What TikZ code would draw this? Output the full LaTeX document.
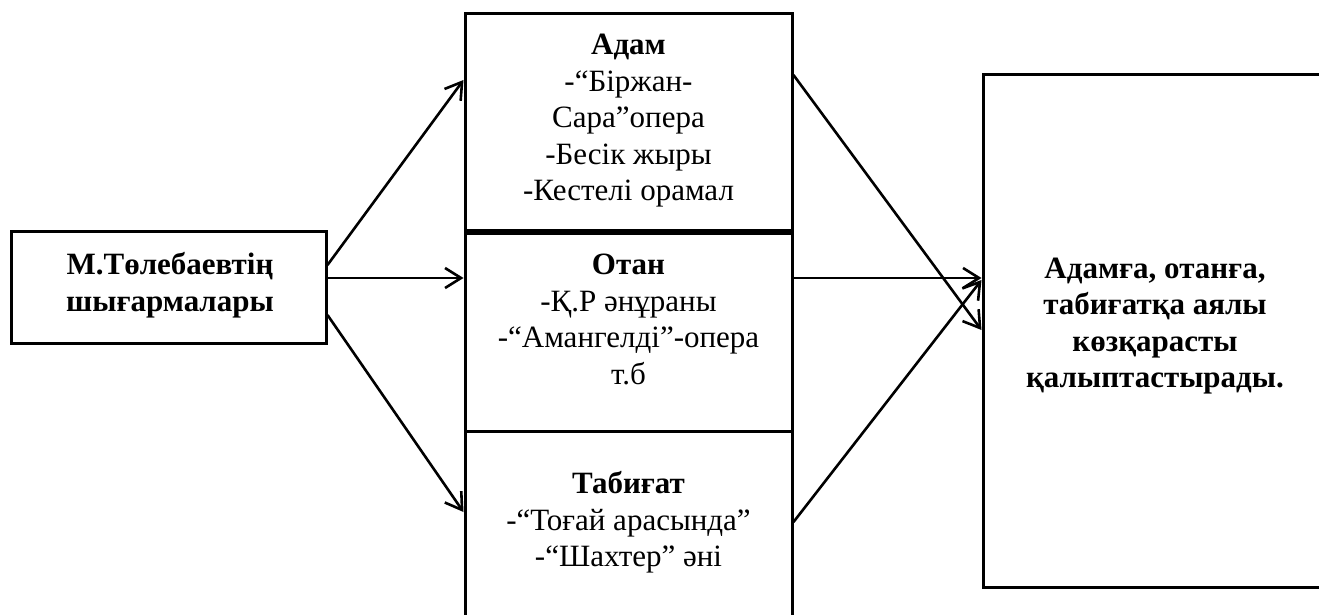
\documentclass[tikz,border=0pt]{standalone}
\usepackage{fontspec}
\setmainfont{Liberation Serif}
\usetikzlibrary{arrows.meta}
\tikzset{
  box/.style={draw, rectangle, line width=3pt, inner sep=0pt},
  txt/.style={align=center, inner sep=0pt, font=\fontsize{31pt}{36.5pt}\selectfont},
  arr/.style={line width=2.6pt, -{Straight Barb[length=16pt,width=20pt]}}
}
\begin{document}
\begin{tikzpicture}[x=1pt,y=-1pt]
\useasboundingbox (0,0) rectangle (1319,615);
% boxes
\node[box, minimum width=315pt, minimum height=112pt] (src) at (168.5,287) {};
\node[box, minimum width=327pt, minimum height=216pt] (adam) at (628.5,122) {};
\node[box, minimum width=327pt, minimum height=198pt] (otan) at (628.5,332) {};
\node[box, minimum width=327pt, minimum height=229pt] (tab) at (628.5,545.5) {};
\node[box, minimum width=357pt, minimum height=512pt] (res) at (1161.5,331) {};
% texts
\node[txt] (srcT) at (170,285) {\textbf{М.Төлебаевтің}\\\textbf{шығармалары}};
\node[txt] (adamT) at (628.5,121) {\textbf{Адам}\\-“Біржан-\\Сара”опера\\-Бесік жыры\\-Кестелі орамал};
\node[txt] (otanT) at (628.5,319.5) {\textbf{Отан}\\-Қ.Р әнұраны\\-“Амангелді”-опера\\т.б};
\node[txt] (tabT) at (628.5,522.5) {\textbf{Табиғат}\\-“Тоғай арасында”\\-“Шахтер” әні};
\node[txt] (resT) at (1155,326) {\textbf{Адамға, отанға,}\\\textbf{табиғатқа аялы}\\\textbf{көзқарасты}\\\textbf{қалыптастырады.}};
% connectors
\draw[arr] ([yshift=22pt]src.east) -- ([yshift=42pt]adam.west);
\draw[arr] ([yshift=9pt]src.east) -- ([yshift=54pt]otan.west);
\draw[arr] ([yshift=-28pt]src.east) -- ([yshift=33.5pt]tab.west);
\draw[arr] ([yshift=47pt]adam.east) -- ([yshift=1pt]res.west);
\draw[arr] ([yshift=54pt]otan.east) -- ([yshift=53pt]res.west);
\draw[arr] ([yshift=23.5pt]tab.east) -- ([yshift=51pt]res.west);
\end{tikzpicture}
\end{document}
